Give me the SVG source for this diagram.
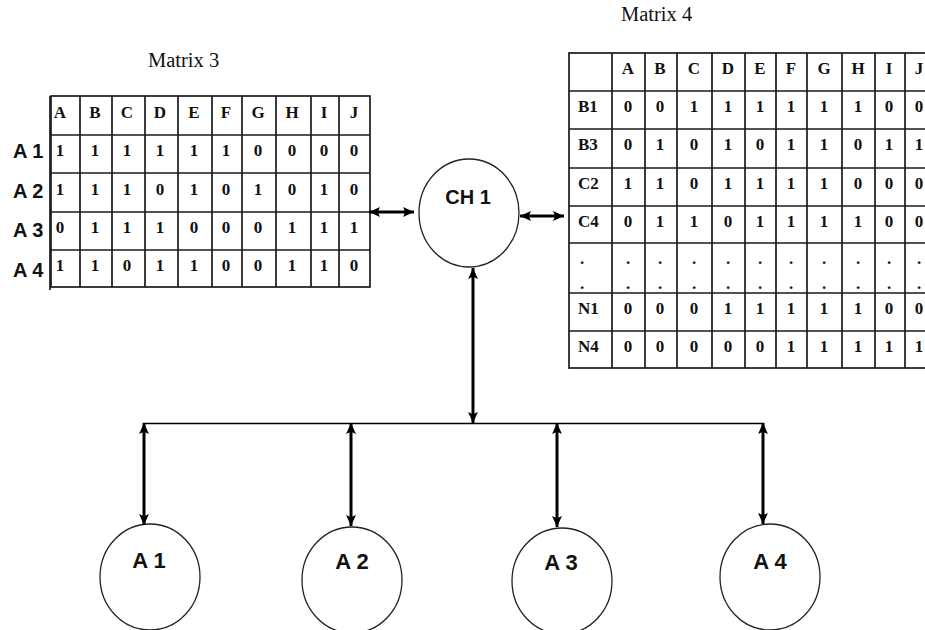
<svg xmlns="http://www.w3.org/2000/svg" width="925" height="630" viewBox="0 0 925 630">
  <style>
    .grid { fill: none; stroke: #1a1a1a; stroke-width: 1.7; }
    .cell { font-family: "Liberation Serif", "Times New Roman", serif; font-weight: bold; font-size: 17px; fill: #111; text-anchor: middle; }
    .rowh { font-family: "Liberation Serif", "Times New Roman", serif; font-weight: bold; font-size: 17px; fill: #111; }
    .title { font-family: "Liberation Serif", "Times New Roman", serif; font-size: 20.5px; fill: #111; }
    .lab { font-family: "Liberation Sans", Arial, sans-serif; font-weight: bold; font-size: 20px; fill: #111; }
    .node { fill: #fff; stroke: #222; stroke-width: 1.3; }
    .nlab { font-family: "Liberation Sans", Arial, sans-serif; font-weight: bold; font-size: 22px; fill: #111; text-anchor: middle; }
    .arrow { stroke: #000; stroke-width: 3; fill: none; marker-start: url(#head); marker-end: url(#head); }
    .bus { stroke: #000; stroke-width: 1.6; fill: none; }
  </style>
  <defs>
    <marker id="head" viewBox="0 0 10 10" refX="10" refY="5" markerUnits="userSpaceOnUse" markerWidth="11" markerHeight="11" orient="auto-start-reverse">
      <path d="M0,0.5 L10,5 L0,9.5 L2,5 z" fill="#000"/>
    </marker>
  </defs>

  <rect width="925" height="630" fill="#fff"/>

  <!-- Matrix 3 -->
  <g id="matrix3">
    <text class="title" x="148" y="67">Matrix 3</text>
    <rect class="grid" x="51" y="96" width="319" height="191"/>
    <line class="grid" x1="50" y1="96" x2="50" y2="290"/>
    <path class="grid" d="M51,135H370M51,173H370M51,212H370M51,250H370"/>
    <path class="grid" d="M80,96V287M112,96V287M145,96V287M178,96V287M212,96V287M242,96V287M276,96V287M311,96V287M339,96V287"/>
    <g class="lab">
      <text x="13" y="158">A 1</text>
      <text x="13" y="198">A 2</text>
      <text x="13" y="237">A 3</text>
      <text x="13" y="277">A 4</text>
    </g>
    <g class="cell">
      <text y="118"><tspan x="60">A</tspan><tspan x="95">B</tspan><tspan x="127">C</tspan><tspan x="160">D</tspan><tspan x="194">E</tspan><tspan x="226">F</tspan><tspan x="258">G</tspan><tspan x="292">H</tspan><tspan x="324">I</tspan><tspan x="354">J</tspan></text>
      <text y="156"><tspan x="60">1</tspan><tspan x="95">1</tspan><tspan x="127">1</tspan><tspan x="160">1</tspan><tspan x="194">1</tspan><tspan x="226">1</tspan><tspan x="258">0</tspan><tspan x="292">0</tspan><tspan x="324">0</tspan><tspan x="354">0</tspan></text>
      <text y="195"><tspan x="60">1</tspan><tspan x="95">1</tspan><tspan x="127">1</tspan><tspan x="160">0</tspan><tspan x="194">1</tspan><tspan x="226">0</tspan><tspan x="258">1</tspan><tspan x="292">0</tspan><tspan x="324">1</tspan><tspan x="354">0</tspan></text>
      <text y="233"><tspan x="60">0</tspan><tspan x="95">1</tspan><tspan x="127">1</tspan><tspan x="160">1</tspan><tspan x="194">0</tspan><tspan x="226">0</tspan><tspan x="258">0</tspan><tspan x="292">1</tspan><tspan x="324">1</tspan><tspan x="354">1</tspan></text>
      <text y="271"><tspan x="60">1</tspan><tspan x="95">1</tspan><tspan x="127">0</tspan><tspan x="160">1</tspan><tspan x="194">1</tspan><tspan x="226">0</tspan><tspan x="258">0</tspan><tspan x="292">1</tspan><tspan x="324">1</tspan><tspan x="354">0</tspan></text>
    </g>
  </g>

  <!-- Matrix 4 (runs past the right edge) -->
  <g id="matrix4">
    <text class="title" x="621" y="21">Matrix 4</text>
    <rect class="grid" x="569" y="53" width="364" height="315"/>
    <path class="grid" d="M569,91H933M569,129H933M569,168H933M569,206H933M569,243H933M569,293H933M569,331H933"/>
    <path class="grid" d="M612,53V368M645,53V368M677,53V368M712,53V368M745,53V368M776,53V368M807,53V368M842,53V368M875,53V368M905,53V368"/>
    <g class="rowh">
      <text x="578" y="112">B1</text>
      <text x="578" y="150">B3</text>
      <text x="578" y="189">C2</text>
      <text x="578" y="227">C4</text>
      <text x="580" y="264">.</text>
      <text x="580" y="289">.</text>
      <text x="578" y="314">N1</text>
      <text x="578" y="352">N4</text>
    </g>
    <g class="cell">
      <text y="74"><tspan x="628">A</tspan><tspan x="660">B</tspan><tspan x="694">C</tspan><tspan x="728">D</tspan><tspan x="760">E</tspan><tspan x="791">F</tspan><tspan x="824">G</tspan><tspan x="858">H</tspan><tspan x="889">I</tspan><tspan x="919">J</tspan></text>
      <text y="112"><tspan x="628">0</tspan><tspan x="660">0</tspan><tspan x="694">1</tspan><tspan x="728">1</tspan><tspan x="760">1</tspan><tspan x="791">1</tspan><tspan x="824">1</tspan><tspan x="858">1</tspan><tspan x="889">0</tspan><tspan x="919">0</tspan></text>
      <text y="150"><tspan x="628">0</tspan><tspan x="660">1</tspan><tspan x="694">0</tspan><tspan x="728">1</tspan><tspan x="760">0</tspan><tspan x="791">1</tspan><tspan x="824">1</tspan><tspan x="858">0</tspan><tspan x="889">1</tspan><tspan x="919">1</tspan></text>
      <text y="189"><tspan x="628">1</tspan><tspan x="660">1</tspan><tspan x="694">0</tspan><tspan x="728">1</tspan><tspan x="760">1</tspan><tspan x="791">1</tspan><tspan x="824">1</tspan><tspan x="858">0</tspan><tspan x="889">0</tspan><tspan x="919">0</tspan></text>
      <text y="227"><tspan x="628">0</tspan><tspan x="660">1</tspan><tspan x="694">1</tspan><tspan x="728">0</tspan><tspan x="760">1</tspan><tspan x="791">1</tspan><tspan x="824">1</tspan><tspan x="858">1</tspan><tspan x="889">0</tspan><tspan x="919">0</tspan></text>
      <text y="264"><tspan x="628">.</tspan><tspan x="660">.</tspan><tspan x="694">.</tspan><tspan x="728">.</tspan><tspan x="760">.</tspan><tspan x="791">.</tspan><tspan x="824">.</tspan><tspan x="858">.</tspan><tspan x="889">.</tspan><tspan x="919">.</tspan></text>
      <text y="289"><tspan x="628">.</tspan><tspan x="660">.</tspan><tspan x="694">.</tspan><tspan x="728">.</tspan><tspan x="760">.</tspan><tspan x="791">.</tspan><tspan x="824">.</tspan><tspan x="858">.</tspan><tspan x="889">.</tspan><tspan x="919">.</tspan></text>
      <text y="314"><tspan x="628">0</tspan><tspan x="660">0</tspan><tspan x="694">0</tspan><tspan x="728">1</tspan><tspan x="760">1</tspan><tspan x="791">1</tspan><tspan x="824">1</tspan><tspan x="858">1</tspan><tspan x="889">0</tspan><tspan x="919">0</tspan></text>
      <text y="352"><tspan x="628">0</tspan><tspan x="660">0</tspan><tspan x="694">0</tspan><tspan x="728">0</tspan><tspan x="760">0</tspan><tspan x="791">1</tspan><tspan x="824">1</tspan><tspan x="858">1</tspan><tspan x="889">1</tspan><tspan x="919">1</tspan></text>
    </g>
  </g>

  <!-- Cluster head and member nodes -->
  <g id="ch1">
    <ellipse class="node" cx="469" cy="213" rx="50" ry="54"/>
    <text class="lab" x="468" y="204" text-anchor="middle">CH 1</text>
  </g>
  <g id="a1">
    <ellipse class="node" cx="150" cy="577" rx="50" ry="53"/>
    <text class="nlab" x="149" y="568">A 1</text>
  </g>
  <g id="a2">
    <ellipse class="node" cx="352" cy="580" rx="50" ry="53"/>
    <text class="nlab" x="352" y="569">A 2</text>
  </g>
  <g id="a3">
    <ellipse class="node" cx="562" cy="581" rx="50" ry="53"/>
    <text class="nlab" x="561" y="570">A 3</text>
  </g>
  <g id="a4">
    <ellipse class="node" cx="770" cy="577" rx="50" ry="53"/>
    <text class="nlab" x="770" y="569">A 4</text>
  </g>

  <!-- Connectors -->
  <g id="connectors">
    <line class="arrow" x1="369" y1="212" x2="414" y2="212"/>
    <line class="arrow" x1="520" y1="216" x2="564" y2="216"/>
    <line class="arrow" x1="473" y1="268" x2="473" y2="423"/>
    <line class="bus" x1="143" y1="423.5" x2="764" y2="423.5"/>
    <line class="arrow" x1="144" y1="423" x2="144" y2="525"/>
    <line class="arrow" x1="351" y1="423" x2="351" y2="526"/>
    <line class="arrow" x1="557" y1="423" x2="557" y2="527"/>
    <line class="arrow" x1="763" y1="423" x2="763" y2="524"/>
  </g>
</svg>
